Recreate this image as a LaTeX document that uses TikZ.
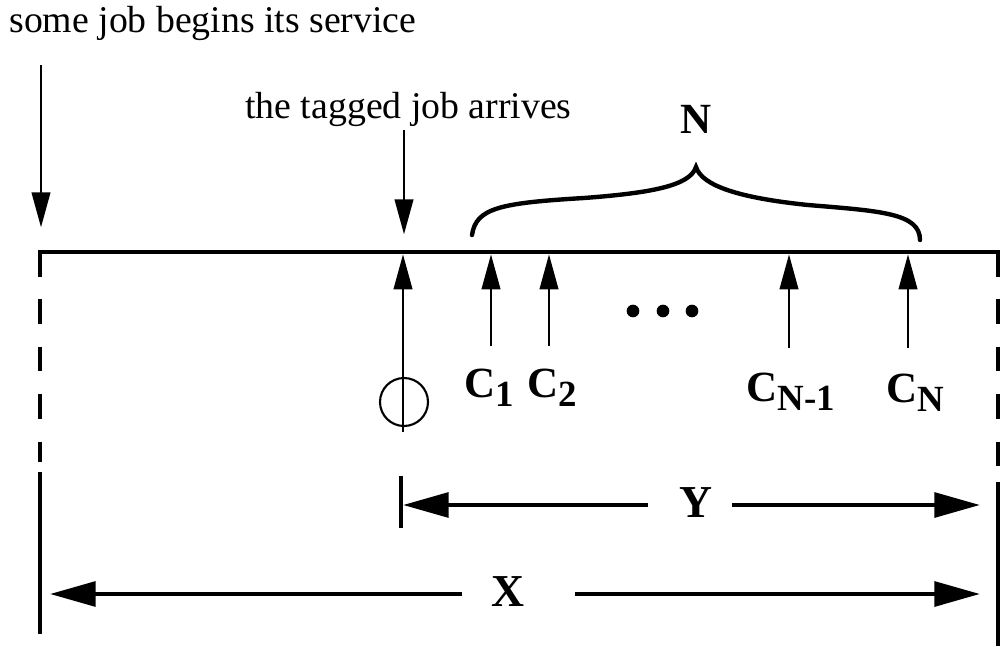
\documentclass[tikz,border=0pt]{standalone}
\usepackage{fontspec}
\setmainfont{Liberation Serif}
\usetikzlibrary{arrows.meta,positioning,calc}
\newcommand{\lowsub}[1]{\raisebox{-5.5pt}{\fontsize{21}{21}\selectfont #1}}

\begin{document}
\begin{tikzpicture}[x=0.02cm, y=-0.02cm, every node/.style={inner sep=0pt}, txt/.style={font=\fontsize{21.5}{24}\selectfont, anchor=base west}, lbl/.style={font=\fontsize{24.5}{27}\selectfont\bfseries}, dimlbl/.style={font=\fontsize{26}{28}\selectfont\bfseries}, evt/.style={line width=1.6pt, -{Triangle[length=20pt,width=10.5pt]}}, span/.style={line width=2.5pt, -{Triangle[length=26pt,width=14pt]}}, bound/.style={line width=2.6pt, dash pattern=on 14pt off 13pt}]
\useasboundingbox (0,0) rectangle (1001,646);
\coordinate (axL) at (40,252);
\coordinate (axR) at (998,252);
\coordinate (tag) at (403,252);
\coordinate (c1) at (491,252);
\coordinate (c2) at (549,252);
\coordinate (cn1) at (789,252);
\coordinate (cn) at (908,252);
\coordinate (dashL) at (40,462);
\coordinate (solidL) at (40,472);
\coordinate (botL) at (40,634);
\coordinate (dashR) at (998,470);
\coordinate (solidR) at (998,482);
\coordinate (botR) at (998,646);
\draw[line width=2.6pt, line cap=rect] (axL) -- (axR);
\draw[bound] (axL) -- (dashL);
\draw[line width=2.6pt] (solidL) -- (botL);
\draw[bound] (axR) -- (dashR);
\draw[line width=2.6pt] (solidR) -- (botR);
\node[txt] (begin) at (9,32) {some job begins its service};
\node[txt] (arrive) at (245,118) {the tagged job arrives};
\coordinate (beginTop) at (41,65);
\coordinate (arriveTop) at (404,130);
\draw[evt] (beginTop) -- ([yshift=14pt]axL -| beginTop);
\draw[evt] (arriveTop) -- ([yshift=10pt]tag -| arriveTop);
\node[draw, circle, line width=1.2pt, minimum size=0.96cm] (mark) at (404,402) {};
\coordinate (tagBot) at (403,432);
\draw[evt] (tagBot) -- ([yshift=-1.3pt]tag);
\coordinate (c1b) at (491,346);
\coordinate (c2b) at (549,346);
\coordinate (cn1b) at (789,348);
\coordinate (cnb) at (908,348);
\draw[evt] (c1b) -- ([yshift=-1.3pt]c1);
\draw[evt] (c2b) -- ([yshift=-1.3pt]c2);
\draw[evt] (cn1b) -- ([yshift=-1.3pt]cn1);
\draw[evt] (cnb) -- ([yshift=-1.3pt]cn);
\node[lbl, anchor=base west] (lc1) at (464,397) {C\lowsub{1}};
\node[lbl, anchor=base west] (lc2) at (527,397) {C\lowsub{2}};
\node[lbl, anchor=base west] (lcn1) at (746,401) {C\lowsub{N-1}};
\node[lbl, anchor=base west] (lcn) at (886,402) {C\lowsub{N}};
\fill (633,311) circle [radius=3.6pt];
\fill (663,311) circle [radius=3.6pt];
\fill (692,311) circle [radius=3.6pt];
\coordinate (bL) at (472,235);
\coordinate (bTip) at (696,167);
\coordinate (bR) at (920,240);
\draw[line width=2.5pt, line cap=round] (bL) .. controls (476,208) and (500,203) .. (584,198) .. controls (650,193) and (690,186) .. (bTip) .. controls (702,186) and (740,198) .. (808,205) .. controls (880,211) and (920,213) .. (bR);
\node[lbl, anchor=base] (N) at (696,133) {N};
\draw[line width=1.8pt] (401,476) -- (401,528);
\node[dimlbl, anchor=base] (Y) at (696,517) {Y};
\coordinate (yA) at (648,505);
\coordinate (yL) at (403,505);
\coordinate (yB) at (732,505);
\coordinate (yR) at (980,505);
\draw[span] (yA) -- (yL);
\draw[span] (yB) -- (yR);
\node[dimlbl, anchor=base] (X) at (508,606) {X};
\coordinate (xA) at (462,594);
\coordinate (xL) at (50,594);
\coordinate (xB) at (575,594);
\coordinate (xR) at (980,594);
\draw[span] (xA) -- (xL);
\draw[span] (xB) -- (xR);
\end{tikzpicture}
\end{document}
